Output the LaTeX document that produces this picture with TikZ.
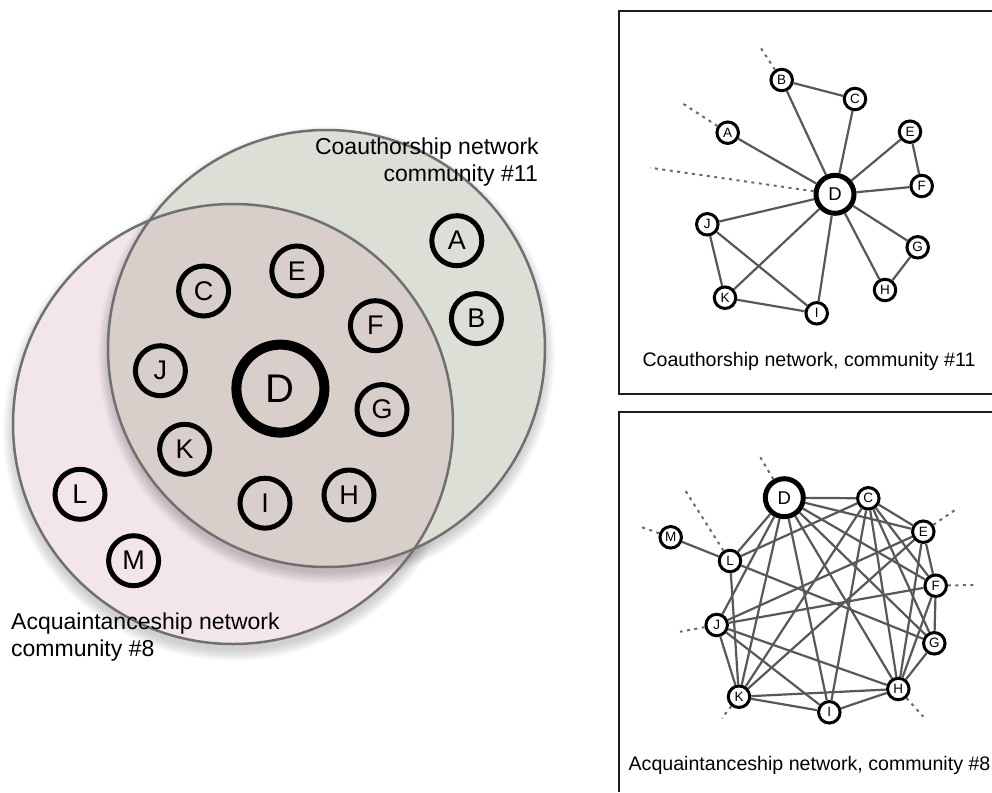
\documentclass[tikz,border=0pt]{standalone}
\usepackage{fontspec}
\setmainfont{Liberation Sans}
\definecolor{coauth}{RGB}{220,223,214}
\definecolor{acq}{RGB}{242,230,235}
\definecolor{both}{RGB}{216,207,203}
\definecolor{rim}{RGB}{112,112,112}
\definecolor{edgec}{RGB}{88,88,88}
\definecolor{stubc}{RGB}{105,105,105}
\definecolor{boxc}{RGB}{30,30,30}
\begin{document}
\begin{tikzpicture}[x=1pt,y=-1pt,
  vnode/.style={circle,draw=black,line width=5pt,minimum size=50pt,inner sep=0pt,font=\fontsize{27}{27}\selectfont},
  vbig/.style={vnode,line width=10pt,minimum size=88pt,font=\fontsize{40}{40}\selectfont},
  vlabel/.style={inner sep=0pt,font=\fontsize{23}{23}\selectfont},
  nn/.style={circle,draw=black,fill=white,line width=3pt,minimum size=21.5pt,inner sep=0pt,font=\fontsize{13.5}{13.5}\selectfont},
  nbig/.style={nn,line width=5pt,minimum size=38pt,font=\fontsize{18.5}{18.5}\selectfont},
  edge/.style={draw=edgec,line width=2.2pt},
  stub/.style={draw=stubc,line width=2pt,dash pattern=on 3pt off 4.5pt},
  caption/.style={inner sep=0pt,font=\fontsize{19.6}{20}\selectfont},
  frame/.style={draw=boxc,line width=2pt}]
\useasboundingbox (0,0) rectangle (992,792);

% ---------- Venn diagram ----------
\foreach \k in {1,...,10} {
  \fill[black,opacity=0.018] (233,431) circle ({218+1.2*\k});
}
\fill[acq] (233,424) circle (220);
\foreach \k in {1,...,10} {
  \fill[black,opacity=0.018] (326.5,355) circle ({216.5+1.2*\k});
}
\fill[coauth] (326.5,348.5) circle (218.5);
\begin{scope}
  \clip (233,424) circle (220);
  \fill[both] (326.5,348.5) circle (218.5);
\end{scope}
\draw[rim,line width=2.5pt] (233,424) circle (220);
\draw[rim,line width=2.5pt] (326.5,348.5) circle (218.5);

\node[vlabel,anchor=base east] (lc1) at (539,154) {Coauthorship network};
\node[vlabel,anchor=base east] (lc2) at (538,181) {community \#11};
\node[vlabel,anchor=base west] (la1) at (11,629) {Acquaintanceship network};
\node[vlabel,anchor=base west] (la2) at (11,656) {community \#8};

\node[vnode] (vA) at (456.8,240.7) {A};
\node[vnode] (vB) at (476.4,318.6) {B};
\node[vnode] (vC) at (203.6,291) {C};
\node[vnode] (vE) at (296.8,271) {E};
\node[vnode] (vF) at (375.4,325.7) {F};
\node[vnode] (vJ) at (160.4,370.7) {J};
\node[vbig]  (vD) at (280.4,388.6) {D};
\node[vnode] (vG) at (382,409.6) {G};
\node[vnode] (vK) at (184.6,449.3) {K};
\node[vnode] (vL) at (80,494.3) {L};
\node[vnode] (vI) at (265,503.2) {I};
\node[vnode] (vH) at (349,495) {H};
\node[vnode] (vM) at (133.6,560.7) {M};

% ---------- frames ----------
\draw[frame] (992,11) -- (618.5,11) -- (618.5,394) -- (992,394);
\draw[frame] (992,412) -- (618.5,412) -- (618.5,792);

% ---------- coauthorship network ----------
\node[nn]   (tB) at (781.7,80) {B};
\node[nn]   (tC) at (855,99) {C};
\node[nn]   (tA) at (727.7,132.7) {A};
\node[nn]   (tE) at (910,131.7) {E};
\node[nbig] (tD) at (835,194.3) {D};
\node[nn]   (tF) at (921.7,186) {F};
\node[nn]   (tJ) at (707.3,224.3) {J};
\node[nn]   (tG) at (917.7,247.3) {G};
\node[nn]   (tH) at (885,290) {H};
\node[nn]   (tK) at (725,297.7) {K};
\node[nn]   (tI) at (816.7,313.3) {I};
\coordinate (tsB) at (760,46.7);
\coordinate (tsA) at (680,101.7);
\coordinate (tsD) at (650,167.7);
\draw[stub] (tB) -- (tsB);
\draw[stub] (tA) -- (tsA);
\draw[stub] (tD) -- (tsD);
\foreach \a/\b in {B/C,B/D,C/D,A/D,E/D,E/F,F/D,J/D,K/D,I/D,G/D,H/D,G/H,J/K,J/I,K/I}
  \draw[edge] (t\a) -- (t\b);
\node[caption,anchor=base] (cap1) at (809,366) {Coauthorship network, community \#11};

% ---------- acquaintanceship network ----------
\node[nbig] (bD) at (784.3,497.7) {D};
\node[nn]   (bC) at (868.3,498.3) {C};
\node[nn]   (bE) at (923.3,531.7) {E};
\node[nn]   (bM) at (670.7,537.3) {M};
\node[nn]   (bL) at (730,561) {L};
\node[nn]   (bF) at (935.7,585.7) {F};
\node[nn]   (bJ) at (716.7,625) {J};
\node[nn]   (bG) at (934.3,643.3) {G};
\node[nn]   (bH) at (898.3,689) {H};
\node[nn]   (bK) at (739,696.7) {K};
\node[nn]   (bI) at (829.3,712.3) {I};
\coordinate (bsD) at (760,456.7);
\coordinate (bsL) at (685,490);
\coordinate (bsM) at (638.3,526);
\coordinate (bsJ) at (680,631.7);
\coordinate (bsE) at (955,510);
\coordinate (bsF) at (973.3,585);
\coordinate (bsH) at (923.3,716.7);
\coordinate (bsK) at (721.7,718.3);
\foreach \a in {D,L,M,J,E,F,H,K}
  \draw[stub] (b\a) -- (bs\a);
\foreach \a/\b in {D/C,D/E,D/F,D/G,D/H,D/I,D/J,D/K,D/L,
                   C/E,C/F,C/G,C/H,C/I,C/K,C/L,
                   E/F,E/H,E/J,E/K,
                   F/G,F/H,F/J,
                   G/H,G/L,
                   H/I,H/J,H/K,
                   I/J,I/K,
                   J/K,K/L,L/M}
  \draw[edge] (b\a) -- (b\b);
\node[caption,anchor=base] (cap2) at (809.5,770) {Acquaintanceship network, community \#8};
\end{tikzpicture}
\end{document}
